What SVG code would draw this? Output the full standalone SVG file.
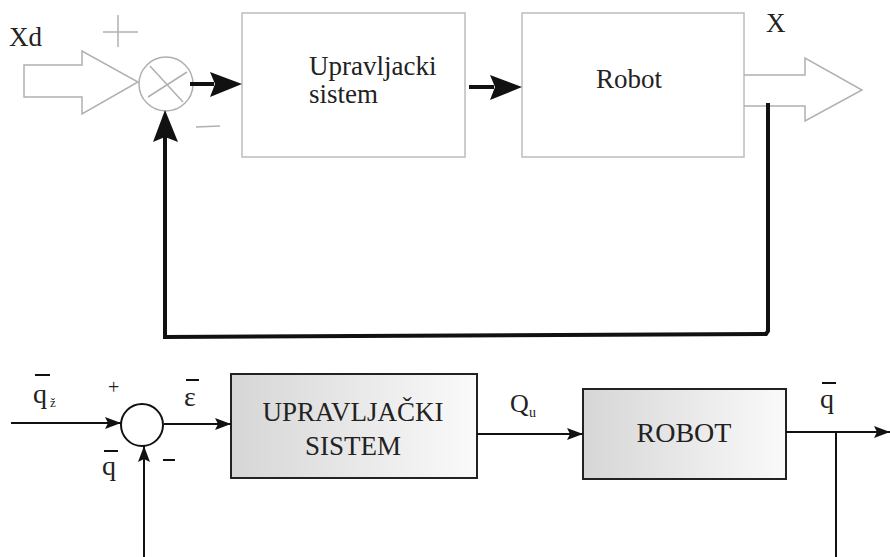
<svg xmlns="http://www.w3.org/2000/svg" width="890" height="557" viewBox="0 0 890 557">
<defs>
<linearGradient id="g" x1="0" y1="0" x2="1" y2="0">
<stop offset="0" stop-color="#d6d6d6"/>
<stop offset="1" stop-color="#fafafa"/>
</linearGradient>
<marker id="as" markerWidth="16" markerHeight="12" refX="16" refY="6" orient="auto" markerUnits="userSpaceOnUse" viewBox="0 0 16 12">
<path d="M0,0 L16,6 L0,12 L3,6 Z" fill="#111"/>
</marker>
</defs>
<style>
text{font-family:'Liberation Serif','Times New Roman','DejaVu Serif',serif;fill:#222;}
.gray{fill:none;stroke:#b0b0b0;stroke-width:1.5;}
.box1{fill:#fff;stroke:#bcbcbc;stroke-width:1.5;}
.box2{fill:url(#g);stroke:#222;stroke-width:2;}
.thick{fill:none;stroke:#111;stroke-width:4;}
.thin{fill:none;stroke:#111;stroke-width:2;}
.head{fill:#111;}
</style>
<rect width="890" height="557" fill="#fff"/>

<!-- top diagram -->
<g id="input-Xd" font-family="Liberation Serif, serif">
<path class="gray" d="M24,65 H82 V51 L138,82 L82,114 V97 H24 Z"/>
<text x="9" y="46" font-size="27" font-family="Liberation Serif, serif">Xd</text>
</g>
<g id="sum1">
<circle class="gray" cx="166" cy="84" r="27"/>
<line class="gray" x1="150" y1="66" x2="183" y2="102"/>
<line class="gray" x1="148" y1="97" x2="187" y2="72"/>
<line class="gray" x1="103" y1="32" x2="138" y2="32"/>
<line class="gray" x1="118" y1="15" x2="118" y2="47"/>
<line class="gray" x1="196" y1="127" x2="220" y2="126"/>
</g>
<g id="upravljacki">
<rect class="box1" x="242" y="13" width="223" height="144"/>
<text x="309" y="75" font-size="27" font-family="Liberation Serif, serif">Upravljacki</text>
<text x="309" y="103" font-size="27" font-family="Liberation Serif, serif">sistem</text>
</g>
<g id="robot">
<rect class="box1" x="522" y="13" width="222" height="144"/>
<text x="596" y="88" font-size="27" font-family="Liberation Serif, serif">Robot</text>
</g>
<g id="output-X">
<path class="gray" d="M744,75 H805 V58 L862,90 L805,121 V106 H744"/>
<text x="766" y="32" font-size="27" font-family="Liberation Serif, serif">X</text>
</g>
<g id="connectors-top">
<line class="thick" x1="190" y1="84" x2="214" y2="84"/>
<path class="head" d="M210,72 L242,84 L210,97 L215,84 Z"/>
<line class="thick" x1="469" y1="87" x2="494" y2="87"/>
<path class="head" d="M490,75 L522,87 L490,100 L495,87 Z"/>
<polyline class="thick" points="768,103 768,331 766,334 165,337 165,136"/>
<path class="head" d="M153,142 L165,110 L178,142 L165,137 Z"/>
</g>

<!-- bottom diagram -->
<g id="input-qz">
<line class="thin" x1="35" y1="375" x2="50" y2="375"/>
<text x="33" y="403" font-size="28" font-family="Liberation Serif, serif">q</text>
<text x="50" y="407" font-size="13" font-family="Liberation Serif, serif">ž</text>
</g>
<g id="sum2">
<circle cx="142" cy="425" r="21" fill="#fff" stroke="#111" stroke-width="2"/>
<text x="108" y="394" font-size="20" font-family="Liberation Serif, serif">+</text>
<line class="thin" x1="163" y1="460" x2="175" y2="460" stroke-width="1.5"/>
<line class="thin" x1="104" y1="451" x2="118" y2="451"/>
<text x="102" y="475" font-size="28" font-family="Liberation Serif, serif">q</text>
</g>
<g id="eps">
<line class="thin" x1="186" y1="380" x2="199" y2="380"/>
<text x="184" y="406" font-size="28" font-family="Liberation Serif, serif">ε</text>
</g>
<g id="upravljacki2">
<rect class="box2" x="231" y="374" width="246" height="104"/>
<text x="353" y="421" font-size="27" text-anchor="middle" font-family="Liberation Serif, serif">UPRAVLJAČKI</text>
<text x="353" y="455" font-size="27" text-anchor="middle" font-family="Liberation Serif, serif">SISTEM</text>
</g>
<g id="Qu">
<text x="510" y="412" font-size="26" font-family="Liberation Serif, serif">Q</text>
<text x="529" y="417" font-size="14" font-family="Liberation Serif, serif">u</text>
</g>
<g id="robot2">
<rect class="box2" x="583" y="389" width="203" height="90"/>
<text x="684" y="442" font-size="28" text-anchor="middle" font-family="Liberation Serif, serif">ROBOT</text>
</g>
<g id="output-q">
<line class="thin" x1="822" y1="383" x2="836" y2="383"/>
<text x="820" y="408" font-size="28" font-family="Liberation Serif, serif">q</text>
</g>
<g id="connectors-bottom">
<line class="thin" x1="11" y1="423" x2="121" y2="423" marker-end="url(#as)"/>
<line class="thin" x1="164" y1="424" x2="231" y2="424" marker-end="url(#as)"/>
<line class="thin" x1="477" y1="434" x2="583" y2="434" marker-end="url(#as)"/>
<line class="thin" x1="786" y1="432" x2="890" y2="432" marker-end="url(#as)"/>
<line class="thin" x1="836" y1="432" x2="836" y2="557"/>
<line class="thin" x1="144" y1="557" x2="144" y2="446" marker-end="url(#as)"/>
</g>
</svg>
